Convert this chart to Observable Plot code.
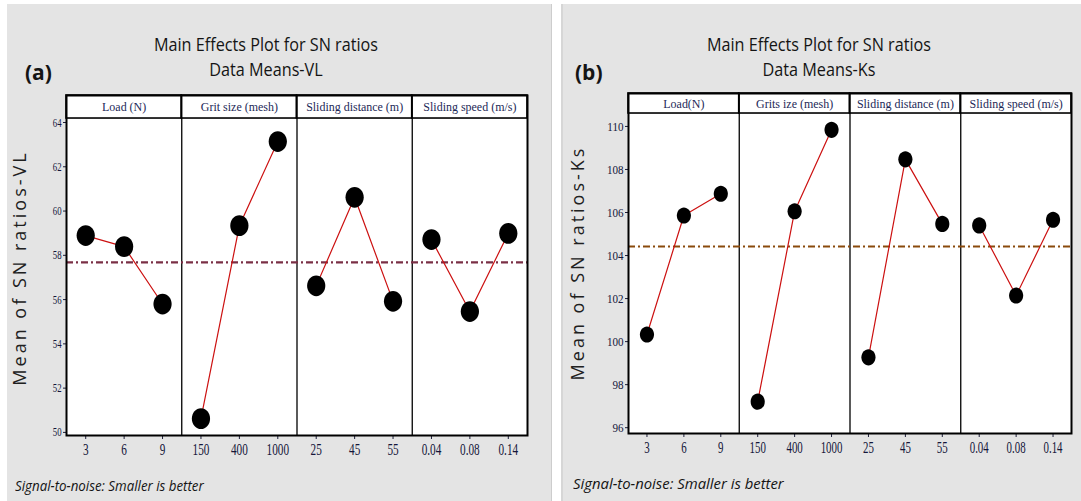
<!DOCTYPE html>
<html><head><meta charset="utf-8">
<script src="https://cdn.jsdelivr.net/npm/d3@7"></script>
<script src="https://cdn.jsdelivr.net/npm/@observablehq/plot@0.6"></script>
<style>
html,body{margin:0;padding:0;}
body{background:#fff;width:1081px;height:501px;overflow:hidden;position:relative;font-family:"Open Sans",sans-serif;}
.panel{position:absolute;top:4px;height:497px;background:#e4e4e4;}
#bga{left:7px;width:544px;border-right:1px solid #cdcdcd;}
#bgb{left:561px;width:520px;border-left:2px solid #d6d6d6;}
.abs{position:absolute;white-space:nowrap;color:#141414;}
.title{font-size:18px;line-height:25px;transform:translateX(-50%) scaleX(0.9);text-align:center;}
.tag{font-size:21px;font-weight:bold;line-height:24px;}
.ylab{font-size:18px;letter-spacing:3px;line-height:20px;transform:translate(-50%,-50%) rotate(-90deg);color:#202020;}
.note{font-style:italic;transform-origin:0 0;}
.chart{position:absolute;top:80px;}
.chart svg{overflow:visible;}
#ca [aria-label^="y-axis"] text{font-size:12.5px !important;fill:#14163a;}
#cb [aria-label^="y-axis"] text{font-size:13.5px !important;fill:#14163a;}
.chart [aria-label^="x-axis"] text{font-size:17px !important;fill:#14163a;}
</style>
</head><body>
<div id="bga" class="panel"></div>
<div id="bgb" class="panel"></div>

<div class="abs title" style="left:266px;top:32px;">Main Effects Plot for SN ratios<br>Data Means-VL</div>
<div class="abs tag" style="left:25px;top:60px;">(a)</div>
<div class="abs ylab" style="left:19px;top:268px;">Mean of SN ratios-VL</div>
<div class="abs note" style="left:15px;top:476px;font-size:14px;transform:scaleX(0.95);">Signal-to-noise: Smaller is better</div>

<div class="abs title" style="left:819px;top:32px;">Main Effects Plot for SN ratios<br>Data Means-Ks</div>
<div class="abs tag" style="left:575px;top:60px;">(b)</div>
<div class="abs ylab" style="left:577px;top:263px;">Mean of SN ratios-Ks</div>
<div class="abs note" style="left:573px;top:473px;font-size:15px;transform:scaleX(0.99);">Signal-to-noise: Smaller is better</div>

<div id="ca" class="chart" style="left:0px;"></div>
<div id="cb" class="chart" style="left:556px;"></div>

<script>
// ---- data ----
const factorsA = ["Load (N)", "Grit size (mesh)", "Sliding distance (m)", "Sliding speed (m/s)"];
const factorsB = ["Load(N)", "Grits ize (mesh)", "Sliding distance (m)", "Sliding speed (m/s)"];
const levels = ["3", "6", "9", "150", "400", "1000", "25", "45", "55", "0.04", "0.08", "0.14"];
const snVL = [58.89, 58.39, 55.80, 50.62, 59.34, 63.14, 56.62, 60.62, 55.92, 58.71, 55.46, 58.99];
const snKs = [100.33, 105.86, 106.87, 97.21, 106.06, 109.84, 99.27, 108.47, 105.47, 105.40, 102.14, 105.66];
const meanVL = 57.68;
const meanKs = 104.42;
const yTicksVL = [50, 52, 54, 56, 58, 60, 62, 64];
const yTicksKs = [96, 98, 100, 102, 104, 106, 108, 110];

const perFactor = levels.length / factorsA.length;

function blob(sx, sy) {
  return {draw(ctx, size) {
    const r = Math.sqrt(size / Math.PI), a = r * sx, b = r * sy, k = 0.5523;
    ctx.moveTo(a, 0);
    ctx.bezierCurveTo(a, b * k, a * k, b, 0, b);
    ctx.bezierCurveTo(-a * k, b, -a, b * k, -a, 0);
    ctx.bezierCurveTo(-a, -b * k, -a * k, -b, 0, -b);
    ctx.bezierCurveTo(a * k, -b, a, -b * k, a, 0);
    ctx.closePath();
  }};
}

function makeChart(cfg) {
  const rows = levels.map((lv, i) => ({i, level: lv, factor: cfg.factors[Math.floor(i / perFactor)], value: cfg.values[i]}));
  const heads = cfg.factors.map((f, k) => ({f, x1: k * perFactor - 0.5, x2: (k + 1) * perFactor - 0.5, xc: k * perFactor + (perFactor - 1) / 2}));
  const dividers = heads.slice(1).map(h => h.x1);
  const [y0, y1] = cfg.yDomain;
  return Plot.plot({
    width: cfg.width, height: 400,
    marginLeft: cfg.ml, marginRight: cfg.mr, marginTop: cfg.mt, marginBottom: cfg.mb,
    style: {background: "transparent", fontFamily: "'Liberation Serif', serif", color: "#1d1f3a", overflow: "visible"},
    x: {type: "linear", domain: [-0.5, levels.length - 0.5], ticks: levels.map((_, i) => i), tickFormat: i => levels[i], tickSize: 4, tickPadding: 3, label: null},
    y: {domain: cfg.yDomain, ticks: cfg.yTicks, tickFormat: d => String(d), tickSize: 3, tickPadding: 2, label: null},
    marks: [
      Plot.frame({fill: "white", stroke: "none"}),
      Plot.rect(heads, {x1: "x1", x2: "x2", y1: cfg.headBottom, y2: y1, fill: "white", stroke: "black", strokeWidth: 1.6}),
      Plot.ruleX(dividers, {x: d => d, y1: y0, y2: y1, stroke: "black", strokeWidth: 1.3}),
      Plot.ruleY([cfg.mean], {stroke: cfg.meanColor, strokeWidth: 2.2, strokeDasharray: "7,3,2,3"}),
      Plot.line(rows, {x: "i", y: "value", z: "factor", stroke: "#cc1010", strokeWidth: 1.2}),
      Plot.dot(rows, {x: "i", y: "value", r: cfg.r, fill: "black", stroke: "none", symbol: blob(0.93, 1.06)}),
      Plot.text(heads, {x: "xc", y: (cfg.headBottom + y1) / 2, text: "f", fontSize: 13, fontFamily: "'Liberation Serif', serif", fill: "#1c2857"}),
      Plot.frame({stroke: "black", strokeWidth: 2})
    ]
  });
}

function squeeze(svg, sel, f) {
  svg.querySelectorAll(sel).forEach(t => {
    const L = t.getComputedTextLength();
    if (L > 0) { t.setAttribute("textLength", (L * f).toFixed(2)); t.setAttribute("lengthAdjust", "spacingAndGlyphs"); }
  });
}

const svgA = makeChart({
  factors: factorsA, values: snVL, mean: meanVL, meanColor: "#7a2f45",
  yDomain: [49.86, 65.22], headBottom: 64.18, yTicks: yTicksVL,
  width: 545, ml: 66, mr: 18, mt: 15, mb: 45, r: 9.8
});
const svgB = makeChart({
  factors: factorsB, values: snKs, mean: meanKs, meanColor: "#8a4a0c",
  yDomain: [95.73, 111.53], headBottom: 110.6, yTicks: yTicksKs,
  width: 525, ml: 72, mr: 10, mt: 13, mb: 47, r: 7.6
});
document.getElementById("ca").append(svgA);
document.getElementById("cb").append(svgB);

squeeze(svgA, '[aria-label^="x-axis"] text', 0.66);
squeeze(svgB, '[aria-label^="x-axis"] text', 0.64);
squeeze(svgA, '[aria-label^="y-axis"] text', 0.7);
squeeze(svgB, '[aria-label^="y-axis"] text', 0.82);
squeeze(svgA, 'g[aria-label="text"] text', 0.92);
squeeze(svgB, 'g[aria-label="text"] text', 0.92);
</script>
</body></html>
